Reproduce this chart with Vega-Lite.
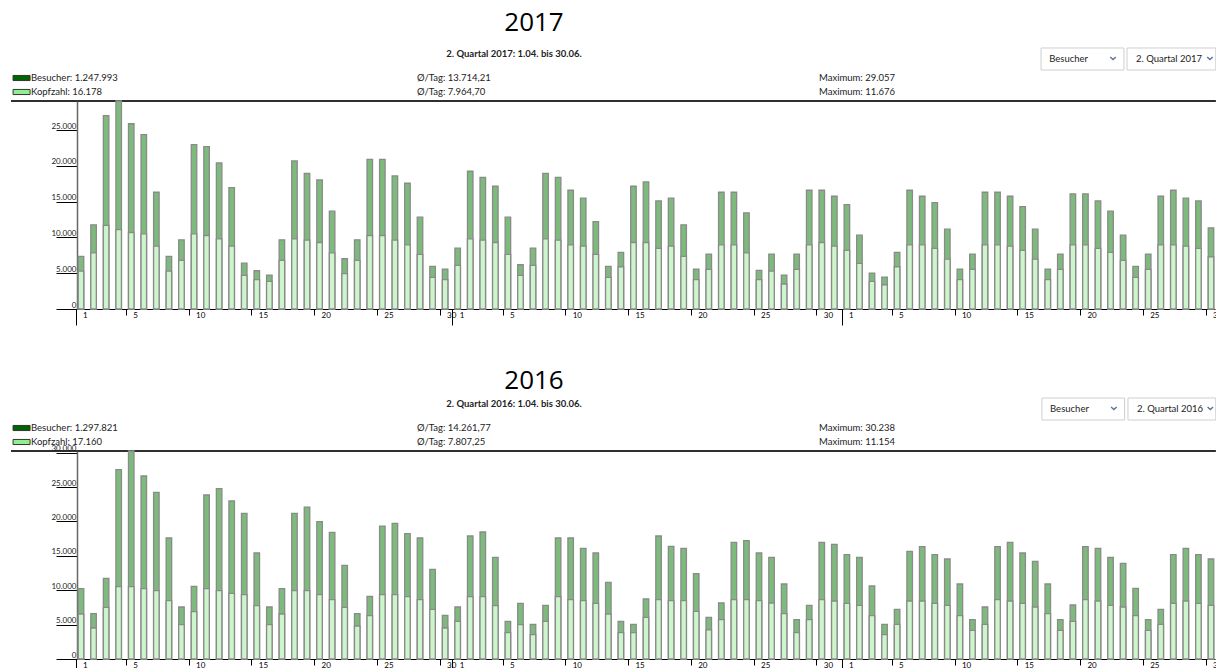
{
"$schema": "https://vega.github.io/schema/vega-lite/v6.json",
"padding": {"left": 10, "top": 10, "right": 0, "bottom": 0},
"background": "white",
"config": {"view": {"stroke": null}, "font": "Lato", "axisY": {"labelOverlap": false}},
"datasets": {
"h2017": [
{"series": "Besucher", "label": "Besucher: 1.247.993", "avg": "Ø/Tag: 13.714,21", "max": "Maximum: 29.057"},
{"series": "Kopfzahl", "label": "Kopfzahl: 16.178", "avg": "Ø/Tag: 7.964,70", "max": "Maximum: 11.676"}
],
"h2016": [
{"series": "Besucher", "label": "Besucher: 1.297.821", "avg": "Ø/Tag: 14.261,77", "max": "Maximum: 30.238"},
{"series": "Kopfzahl", "label": "Kopfzahl: 17.160", "avg": "Ø/Tag: 7.807,25", "max": "Maximum: 11.154"}
],
"d2017": [
{"ds":"2017-04-01","Besucher":7340,"Kopfzahl":5300},{"ds":"2017-04-02","Besucher":11760,"Kopfzahl":7850},{"ds":"2017-04-03","Besucher":27000,"Kopfzahl":11676},{"ds":"2017-04-04","Besucher":29057,"Kopfzahl":11100},{"ds":"2017-04-05","Besucher":25880,"Kopfzahl":10690},{"ds":"2017-04-06","Besucher":24350,"Kopfzahl":10500},{"ds":"2017-04-07","Besucher":16310,"Kopfzahl":8780},{"ds":"2017-04-08","Besucher":7340,"Kopfzahl":5300},{"ds":"2017-04-09","Besucher":9670,"Kopfzahl":6790},{"ds":"2017-04-10","Besucher":22960,"Kopfzahl":10500},
{"ds":"2017-04-11","Besucher":22680,"Kopfzahl":10270},{"ds":"2017-04-12","Besucher":20400,"Kopfzahl":9800},{"ds":"2017-04-13","Besucher":16960,"Kopfzahl":8780},{"ds":"2017-04-14","Besucher":6410,"Kopfzahl":4690},{"ds":"2017-04-15","Besucher":5340,"Kopfzahl":4090},{"ds":"2017-04-16","Besucher":4740,"Kopfzahl":3860},{"ds":"2017-04-17","Besucher":9670,"Kopfzahl":6790},{"ds":"2017-04-18","Besucher":20680,"Kopfzahl":9800},{"ds":"2017-04-19","Besucher":18960,"Kopfzahl":9620},{"ds":"2017-04-20","Besucher":18030,"Kopfzahl":9290},
{"ds":"2017-04-21","Besucher":13660,"Kopfzahl":7850},{"ds":"2017-04-22","Besucher":7020,"Kopfzahl":4930},{"ds":"2017-04-23","Besucher":9670,"Kopfzahl":6790},{"ds":"2017-04-24","Besucher":20910,"Kopfzahl":10270},{"ds":"2017-04-25","Besucher":20910,"Kopfzahl":10270},{"ds":"2017-04-26","Besucher":18590,"Kopfzahl":9620},{"ds":"2017-04-27","Besucher":17570,"Kopfzahl":8970},{"ds":"2017-04-28","Besucher":12830,"Kopfzahl":7620},{"ds":"2017-04-29","Besucher":5950,"Kopfzahl":4420},{"ds":"2017-04-30","Besucher":5580,"Kopfzahl":4090},
{"ds":"2017-05-01","Besucher":8500,"Kopfzahl":6090},{"ds":"2017-05-02","Besucher":19240,"Kopfzahl":9800},{"ds":"2017-05-03","Besucher":18400,"Kopfzahl":9620},{"ds":"2017-05-04","Besucher":17150,"Kopfzahl":9290},{"ds":"2017-05-05","Besucher":12830,"Kopfzahl":7620},{"ds":"2017-05-06","Besucher":6180,"Kopfzahl":4690},{"ds":"2017-05-07","Besucher":8500,"Kopfzahl":6090},{"ds":"2017-05-08","Besucher":18960,"Kopfzahl":9800},{"ds":"2017-05-09","Besucher":18400,"Kopfzahl":9620},{"ds":"2017-05-10","Besucher":16590,"Kopfzahl":8970},
{"ds":"2017-05-11","Besucher":15480,"Kopfzahl":8780},{"ds":"2017-05-12","Besucher":12220,"Kopfzahl":7620},{"ds":"2017-05-13","Besucher":5950,"Kopfzahl":4420},{"ds":"2017-05-14","Besucher":7900,"Kopfzahl":5900},{"ds":"2017-05-15","Besucher":17150,"Kopfzahl":9290},{"ds":"2017-05-16","Besucher":17750,"Kopfzahl":9290},{"ds":"2017-05-17","Besucher":15100,"Kopfzahl":8460},{"ds":"2017-05-18","Besucher":15480,"Kopfzahl":8780},{"ds":"2017-05-19","Besucher":11760,"Kopfzahl":7340},{"ds":"2017-05-20","Besucher":5580,"Kopfzahl":4090},
{"ds":"2017-05-21","Besucher":7670,"Kopfzahl":5530},{"ds":"2017-05-22","Besucher":16310,"Kopfzahl":8970},{"ds":"2017-05-23","Besucher":16310,"Kopfzahl":8970},{"ds":"2017-05-24","Besucher":13430,"Kopfzahl":7850},{"ds":"2017-05-25","Besucher":5390,"Kopfzahl":4090},{"ds":"2017-05-26","Besucher":7670,"Kopfzahl":5300},{"ds":"2017-05-27","Besucher":4740,"Kopfzahl":3490},{"ds":"2017-05-28","Besucher":7670,"Kopfzahl":5530},{"ds":"2017-05-29","Besucher":16590,"Kopfzahl":8970},{"ds":"2017-05-30","Besucher":16590,"Kopfzahl":9290},{"ds":"2017-05-31","Besucher":15750,"Kopfzahl":8780},
{"ds":"2017-06-01","Besucher":14590,"Kopfzahl":8180},{"ds":"2017-06-02","Besucher":10320,"Kopfzahl":6370},{"ds":"2017-06-03","Besucher":5020,"Kopfzahl":3860},{"ds":"2017-06-04","Besucher":4460,"Kopfzahl":3390},{"ds":"2017-06-05","Besucher":7900,"Kopfzahl":5900},{"ds":"2017-06-06","Besucher":16590,"Kopfzahl":8970},{"ds":"2017-06-07","Besucher":15750,"Kopfzahl":8970},{"ds":"2017-06-08","Besucher":14870,"Kopfzahl":8460},{"ds":"2017-06-09","Besucher":11150,"Kopfzahl":6970},{"ds":"2017-06-10","Besucher":5580,"Kopfzahl":4090},
{"ds":"2017-06-11","Besucher":7670,"Kopfzahl":5530},{"ds":"2017-06-12","Besucher":16310,"Kopfzahl":8970},{"ds":"2017-06-13","Besucher":16310,"Kopfzahl":8970},{"ds":"2017-06-14","Besucher":15750,"Kopfzahl":8780},{"ds":"2017-06-15","Besucher":14310,"Kopfzahl":8180},{"ds":"2017-06-16","Besucher":11150,"Kopfzahl":6970},{"ds":"2017-06-17","Besucher":5580,"Kopfzahl":4090},{"ds":"2017-06-18","Besucher":7670,"Kopfzahl":5530},{"ds":"2017-06-19","Besucher":16080,"Kopfzahl":8970},{"ds":"2017-06-20","Besucher":16080,"Kopfzahl":8970},
{"ds":"2017-06-21","Besucher":15100,"Kopfzahl":8460},{"ds":"2017-06-22","Besucher":13660,"Kopfzahl":7900},{"ds":"2017-06-23","Besucher":10320,"Kopfzahl":6790},{"ds":"2017-06-24","Besucher":5950,"Kopfzahl":4420},{"ds":"2017-06-25","Besucher":7670,"Kopfzahl":5530},{"ds":"2017-06-26","Besucher":15750,"Kopfzahl":8970},{"ds":"2017-06-27","Besucher":16590,"Kopfzahl":8970},{"ds":"2017-06-28","Besucher":15480,"Kopfzahl":8780},{"ds":"2017-06-29","Besucher":15100,"Kopfzahl":8460},{"ds":"2017-06-30","Besucher":11340,"Kopfzahl":7300}
],
"d2016": [
{"ds":"2016-04-01","Besucher":10220,"Kopfzahl":6540},{"ds":"2016-04-02","Besucher":6590,"Kopfzahl":4510},{"ds":"2016-04-03","Besucher":11730,"Kopfzahl":7510},{"ds":"2016-04-04","Besucher":27520,"Kopfzahl":10510},{"ds":"2016-04-05","Besucher":30238,"Kopfzahl":10510},{"ds":"2016-04-06","Besucher":26600,"Kopfzahl":10220},{"ds":"2016-04-07","Besucher":24230,"Kopfzahl":9930},{"ds":"2016-04-08","Besucher":17590,"Kopfzahl":8480},{"ds":"2016-04-09","Besucher":7560,"Kopfzahl":4990},{"ds":"2016-04-10","Besucher":10560,"Kopfzahl":6880},
{"ds":"2016-04-11","Besucher":23840,"Kopfzahl":10220},{"ds":"2016-04-12","Besucher":24760,"Kopfzahl":9930},{"ds":"2016-04-13","Besucher":22970,"Kopfzahl":9550},{"ds":"2016-04-14","Besucher":21170,"Kopfzahl":9350},{"ds":"2016-04-15","Besucher":15410,"Kopfzahl":7750},{"ds":"2016-04-16","Besucher":7560,"Kopfzahl":4990},{"ds":"2016-04-17","Besucher":10220,"Kopfzahl":6540},{"ds":"2016-04-18","Besucher":21170,"Kopfzahl":9930},{"ds":"2016-04-19","Besucher":22090,"Kopfzahl":9930},{"ds":"2016-04-20","Besucher":19960,"Kopfzahl":9350},
{"ds":"2016-04-21","Besucher":18410,"Kopfzahl":8620},{"ds":"2016-04-22","Besucher":13610,"Kopfzahl":7510},{"ds":"2016-04-23","Besucher":6590,"Kopfzahl":4800},{"ds":"2016-04-24","Besucher":9110,"Kopfzahl":6300},{"ds":"2016-04-25","Besucher":19330,"Kopfzahl":9350},{"ds":"2016-04-26","Besucher":19720,"Kopfzahl":9350},{"ds":"2016-04-27","Besucher":18220,"Kopfzahl":9060},{"ds":"2016-04-28","Besucher":17590,"Kopfzahl":8620},{"ds":"2016-04-29","Besucher":13030,"Kopfzahl":7220},{"ds":"2016-04-30","Besucher":6350,"Kopfzahl":4510},
{"ds":"2016-05-01","Besucher":7560,"Kopfzahl":5480},{"ds":"2016-05-02","Besucher":17880,"Kopfzahl":9060},{"ds":"2016-05-03","Besucher":18460,"Kopfzahl":9060},{"ds":"2016-05-04","Besucher":14780,"Kopfzahl":7750},{"ds":"2016-05-05","Besucher":5480,"Kopfzahl":3830},{"ds":"2016-05-06","Besucher":8090,"Kopfzahl":4990},{"ds":"2016-05-07","Besucher":5040,"Kopfzahl":3540},{"ds":"2016-05-08","Besucher":7800,"Kopfzahl":5480},{"ds":"2016-05-09","Besucher":17590,"Kopfzahl":9060},{"ds":"2016-05-10","Besucher":17590,"Kopfzahl":8620},
{"ds":"2016-05-11","Besucher":16090,"Kopfzahl":8480},{"ds":"2016-05-12","Besucher":15410,"Kopfzahl":8090},{"ds":"2016-05-13","Besucher":11140,"Kopfzahl":6540},{"ds":"2016-05-14","Besucher":5480,"Kopfzahl":3830},{"ds":"2016-05-15","Besucher":5040,"Kopfzahl":3830},{"ds":"2016-05-16","Besucher":8720,"Kopfzahl":6060},{"ds":"2016-05-17","Besucher":17880,"Kopfzahl":8620},{"ds":"2016-05-18","Besucher":16380,"Kopfzahl":8480},{"ds":"2016-05-19","Besucher":16090,"Kopfzahl":8480},{"ds":"2016-05-20","Besucher":12400,"Kopfzahl":6930},
{"ds":"2016-05-21","Besucher":6060,"Kopfzahl":4220},{"ds":"2016-05-22","Besucher":8140,"Kopfzahl":5720},{"ds":"2016-05-23","Besucher":16960,"Kopfzahl":8620},{"ds":"2016-05-24","Besucher":17200,"Kopfzahl":8620},{"ds":"2016-05-25","Besucher":15410,"Kopfzahl":8480},{"ds":"2016-05-26","Besucher":14780,"Kopfzahl":8140},{"ds":"2016-05-27","Besucher":10900,"Kopfzahl":6590},{"ds":"2016-05-28","Besucher":5720,"Kopfzahl":3830},{"ds":"2016-05-29","Besucher":7800,"Kopfzahl":5720},{"ds":"2016-05-30","Besucher":16960,"Kopfzahl":8620},{"ds":"2016-05-31","Besucher":16670,"Kopfzahl":8430},
{"ds":"2016-06-01","Besucher":15170,"Kopfzahl":8090},{"ds":"2016-06-02","Besucher":14780,"Kopfzahl":7800},{"ds":"2016-06-03","Besucher":10610,"Kopfzahl":6300},{"ds":"2016-06-04","Besucher":5040,"Kopfzahl":3540},{"ds":"2016-06-05","Besucher":7220,"Kopfzahl":5040},{"ds":"2016-06-06","Besucher":15650,"Kopfzahl":8430},{"ds":"2016-06-07","Besucher":16330,"Kopfzahl":8430},{"ds":"2016-06-08","Besucher":15170,"Kopfzahl":8090},{"ds":"2016-06-09","Besucher":14540,"Kopfzahl":7800},{"ds":"2016-06-10","Besucher":10900,"Kopfzahl":6300},
{"ds":"2016-06-11","Besucher":5720,"Kopfzahl":4170},{"ds":"2016-06-12","Besucher":7560,"Kopfzahl":5040},{"ds":"2016-06-13","Besucher":16330,"Kopfzahl":8620},{"ds":"2016-06-14","Besucher":16960,"Kopfzahl":8430},{"ds":"2016-06-15","Besucher":15410,"Kopfzahl":8090},{"ds":"2016-06-16","Besucher":14200,"Kopfzahl":7560},{"ds":"2016-06-17","Besucher":10900,"Kopfzahl":6590},{"ds":"2016-06-18","Besucher":5720,"Kopfzahl":4170},{"ds":"2016-06-19","Besucher":7850,"Kopfzahl":5480},{"ds":"2016-06-20","Besucher":16330,"Kopfzahl":8620},
{"ds":"2016-06-21","Besucher":16090,"Kopfzahl":8430},{"ds":"2016-06-22","Besucher":14780,"Kopfzahl":7800},{"ds":"2016-06-23","Besucher":13910,"Kopfzahl":7560},{"ds":"2016-06-24","Besucher":10270,"Kopfzahl":6300},{"ds":"2016-06-25","Besucher":5720,"Kopfzahl":4170},{"ds":"2016-06-26","Besucher":7220,"Kopfzahl":5040},{"ds":"2016-06-27","Besucher":15170,"Kopfzahl":8090},{"ds":"2016-06-28","Besucher":16090,"Kopfzahl":8430},{"ds":"2016-06-29","Besucher":15170,"Kopfzahl":8090},{"ds":"2016-06-30","Besucher":14540,"Kopfzahl":7800}
]
},
"spacing": 42,
"vconcat": [
{
"spacing": 0,
"bounds": "flush",
"vconcat": [
{
"title": {"text": "2017", "fontSize": 26, "font": "Open Sans", "fontWeight": "normal", "color": "#000", "anchor": "middle", "frame": "group", "dx": -112, "offset": -17, "baseline": "bottom"},
"width": 1138, "height": 56,
"data": {"name": "h2017"},
"resolve": {"scale": {"y": "independent"}},
"layer": [
{"mark": {"type": "rule", "color": "#222", "strokeWidth": 1.5},
 "encoding": {"x": {"datum": 0.82, "type": "quantitative", "scale": {"domain": [0, 100], "range": [-76, 1140], "nice": false, "zero": false}, "axis": null}, "x2": {"datum": 99.9}, "y": {"datum": 4, "type": "quantitative", "scale": {"domain": [0, 4], "reverse": true, "nice": false, "zero": false}, "axis": null}}},
{"mark": {"type": "point", "shape": "M-1,-0.3H1V0.3H-1Z", "size": 289, "filled": true, "opacity": 1, "stroke": "#333", "strokeWidth": 1},
 "encoding": {"x": {"datum": 1.69, "type": "quantitative"}, "y": {"field": "series", "type": "nominal", "scale": {"type": "point", "domain": ["Besucher", "Kopfzahl"], "range": [33, 47], "padding": 0}, "axis": null}, "fill": {"field": "series", "type": "nominal", "scale": {"domain": ["Besucher", "Kopfzahl"], "range": ["#006400", "#90ee90"]}, "legend": null}}},
{"mark": {"type": "text", "align": "left", "baseline": "middle", "fontSize": 9.5, "font": "Lato", "color": "#222"},
 "encoding": {"x": {"datum": 2.47, "type": "quantitative"}, "y": {"field": "series", "type": "nominal", "scale": {"type": "point", "domain": ["Besucher", "Kopfzahl"], "range": [33, 47], "padding": 0}, "axis": null}, "text": {"field": "label"}}},
{"mark": {"type": "text", "align": "left", "baseline": "middle", "fontSize": 9.5, "font": "Lato", "color": "#222"},
 "encoding": {"x": {"datum": 34.21, "type": "quantitative"}, "y": {"field": "series", "type": "nominal", "scale": {"type": "point", "domain": ["Besucher", "Kopfzahl"], "range": [33, 47], "padding": 0}, "axis": null}, "text": {"field": "avg"}}},
{"mark": {"type": "text", "align": "left", "baseline": "middle", "fontSize": 9.5, "font": "Lato", "color": "#222"},
 "encoding": {"x": {"datum": 67.27, "type": "quantitative"}, "y": {"field": "series", "type": "nominal", "scale": {"type": "point", "domain": ["Besucher", "Kopfzahl"], "range": [33, 47], "padding": 0}, "axis": null}, "text": {"field": "max"}}},
{"data": {"values": [{"t": "2. Quartal 2017: 1.04. bis 30.06."}]},
 "mark": {"type": "text", "align": "center", "baseline": "middle", "fontSize": 9.5, "fontWeight": "bold", "font": "Lato", "color": "#222"},
 "encoding": {"x": {"datum": 42.19, "type": "quantitative"}, "y": {"datum": 0.643, "type": "quantitative", "scale": {"domain": [0, 4], "reverse": true, "nice": false, "zero": false}, "axis": null}, "text": {"field": "t"}}},
{"data": {"values": [{"t": "Besucher", "u": "2. Quartal 2017"}]},
 "resolve": {"scale": {"y": "independent"}},
 "layer": [
  {"mark": {"type": "rect", "fill": "white", "stroke": "#cfcfcf", "strokeWidth": 1},
   "encoding": {"x": {"datum": 85.53, "type": "quantitative"}, "x2": {"datum": 92.35}, "y": {"datum": 0.214, "type": "quantitative", "scale": {"domain": [0, 4], "reverse": true, "nice": false, "zero": false}, "axis": null}, "y2": {"datum": 1.786}}},
  {"mark": {"type": "rect", "fill": "white", "stroke": "#cfcfcf", "strokeWidth": 1},
   "encoding": {"x": {"datum": 92.6, "type": "quantitative"}, "x2": {"datum": 99.9}, "y": {"datum": 0.214, "type": "quantitative", "scale": {"domain": [0, 4], "reverse": true, "nice": false, "zero": false}, "axis": null}, "y2": {"datum": 1.786}}},
  {"mark": {"type": "text", "align": "left", "baseline": "middle", "fontSize": 9.5, "font": "Lato", "color": "#222"},
   "encoding": {"x": {"datum": 86.2, "type": "quantitative"}, "y": {"datum": 1.0, "type": "quantitative", "scale": {"domain": [0, 4], "reverse": true, "nice": false, "zero": false}, "axis": null}, "text": {"field": "t"}}},
  {"mark": {"type": "text", "align": "left", "baseline": "middle", "fontSize": 9.5, "font": "Lato", "color": "#222"},
   "encoding": {"x": {"datum": 93.34, "type": "quantitative"}, "y": {"datum": 1.0, "type": "quantitative", "scale": {"domain": [0, 4], "reverse": true, "nice": false, "zero": false}, "axis": null}, "text": {"field": "u"}}},
  {"mark": {"type": "point", "shape": "M-1,-0.45L0,0.45L1,-0.45", "size": 30, "filled": false, "stroke": "#5a7096", "strokeWidth": 1.4, "opacity": 1},
   "encoding": {"x": {"datum": 91.45, "type": "quantitative"}, "y": {"datum": 0.95, "type": "quantitative", "scale": {"domain": [0, 4], "reverse": true, "nice": false, "zero": false}, "axis": null}}},
  {"mark": {"type": "point", "shape": "M-1,-0.45L0,0.45L1,-0.45", "size": 30, "filled": false, "stroke": "#5a7096", "strokeWidth": 1.4, "opacity": 1},
   "encoding": {"x": {"datum": 99.42, "type": "quantitative"}, "y": {"datum": 0.95, "type": "quantitative", "scale": {"domain": [0, 4], "reverse": true, "nice": false, "zero": false}, "axis": null}}}
 ]}
]
},
{
"width": 1138, "height": 208,
"data": {"name": "d2017"},
"encoding": {"x": {"field": "ds", "type": "ordinal", "scale": {"paddingInner": 0.56, "paddingOuter": 0.1},
 "axis": {"title": null, "values": ["2017-04-01","2017-04-05","2017-04-10","2017-04-15","2017-04-20","2017-04-25","2017-04-30","2017-05-01","2017-05-05","2017-05-10","2017-05-15","2017-05-20","2017-05-25","2017-05-30","2017-06-01","2017-06-05","2017-06-10","2017-06-15","2017-06-20","2017-06-25","2017-06-30"],
 "labelExpr": "toNumber(slice(datum.value, 8))", "labelAngle": 0, "labelAlign": "left", "labelBaseline": "top", "labelOffset": 2, "labelFontSize": 8, "labelColor": "#000", "labelFont": "Lato", "labelOverlap": false,
 "bandPosition": -0.38, "domainColor": "#000", "domainWidth": 1, "tickColor": "#000", "tickWidth": 1,
 "tickSize": {"condition": {"test": "slice(datum.value, 8) == '01'", "value": 16}, "value": 6},
 "labelPadding": {"condition": {"test": "slice(datum.value, 8) == '01'", "value": -14}, "value": -4}}},
 "y": {"type": "quantitative", "scale": {"domain": [0, 29057], "nice": false},
  "axis": {"title": null, "values": [0, 5000, 10000, 15000, 20000, 25000], "labelExpr": "replace(format(datum.value, ','), ',', '.')", "grid": false, "tickSize": 21, "labelPadding": -20, "labelBaseline": "bottom", "labelFontSize": 8, "labelColor": "#222", "labelFont": "Lato", "labelOverlap": false, "labelFlush": false, "tickColor": "#000", "domainColor": "#666", "domainWidth": 1.5}}},
"layer": [
{"mark": {"type": "bar", "fill": "#7dbb7d", "stroke": "#8a8a8a", "strokeWidth": 1.3},
 "encoding": {"y": {"field": "Besucher", "type": "quantitative", "title": null}}},
{"mark": {"type": "bar", "fill": "#ccf5cc", "stroke": "#8a8a8a", "strokeWidth": 1.3},
 "encoding": {"y": {"field": "Kopfzahl", "type": "quantitative", "title": null}}}
]
}
]
},
{
"spacing": 0,
"bounds": "flush",
"vconcat": [
{
"title": {"text": "2016", "fontSize": 26, "font": "Open Sans", "fontWeight": "normal", "color": "#000", "anchor": "middle", "frame": "group", "dx": -112, "offset": -25, "baseline": "bottom"},
"width": 1138, "height": 56,
"data": {"name": "h2016"},
"resolve": {"scale": {"y": "independent"}},
"layer": [
{"mark": {"type": "rule", "color": "#222", "strokeWidth": 1.5},
 "encoding": {"x": {"datum": 0.82, "type": "quantitative", "scale": {"domain": [0, 100], "range": [-76, 1140], "nice": false, "zero": false}, "axis": null}, "x2": {"datum": 99.9}, "y": {"datum": 4, "type": "quantitative", "scale": {"domain": [0, 4], "reverse": true, "nice": false, "zero": false}, "axis": null}}},
{"mark": {"type": "point", "shape": "M-1,-0.3H1V0.3H-1Z", "size": 289, "filled": true, "opacity": 1, "stroke": "#333", "strokeWidth": 1},
 "encoding": {"x": {"datum": 1.69, "type": "quantitative"}, "y": {"field": "series", "type": "nominal", "scale": {"type": "point", "domain": ["Besucher", "Kopfzahl"], "range": [33, 47], "padding": 0}, "axis": null}, "fill": {"field": "series", "type": "nominal", "scale": {"domain": ["Besucher", "Kopfzahl"], "range": ["#006400", "#90ee90"]}, "legend": null}}},
{"mark": {"type": "text", "align": "left", "baseline": "middle", "fontSize": 9.5, "font": "Lato", "color": "#222"},
 "encoding": {"x": {"datum": 2.47, "type": "quantitative"}, "y": {"field": "series", "type": "nominal", "scale": {"type": "point", "domain": ["Besucher", "Kopfzahl"], "range": [33, 47], "padding": 0}, "axis": null}, "text": {"field": "label"}}},
{"mark": {"type": "text", "align": "left", "baseline": "middle", "fontSize": 9.5, "font": "Lato", "color": "#222"},
 "encoding": {"x": {"datum": 34.21, "type": "quantitative"}, "y": {"field": "series", "type": "nominal", "scale": {"type": "point", "domain": ["Besucher", "Kopfzahl"], "range": [33, 47], "padding": 0}, "axis": null}, "text": {"field": "avg"}}},
{"mark": {"type": "text", "align": "left", "baseline": "middle", "fontSize": 9.5, "font": "Lato", "color": "#222"},
 "encoding": {"x": {"datum": 67.27, "type": "quantitative"}, "y": {"field": "series", "type": "nominal", "scale": {"type": "point", "domain": ["Besucher", "Kopfzahl"], "range": [33, 47], "padding": 0}, "axis": null}, "text": {"field": "max"}}},
{"data": {"values": [{"t": "2. Quartal 2016: 1.04. bis 30.06."}]},
 "mark": {"type": "text", "align": "center", "baseline": "middle", "fontSize": 9.5, "fontWeight": "bold", "font": "Lato", "color": "#222"},
 "encoding": {"x": {"datum": 42.19, "type": "quantitative"}, "y": {"datum": 0.643, "type": "quantitative", "scale": {"domain": [0, 4], "reverse": true, "nice": false, "zero": false}, "axis": null}, "text": {"field": "t"}}},
{"data": {"values": [{"t": "Besucher", "u": "2. Quartal 2016"}]},
 "resolve": {"scale": {"y": "independent"}},
 "layer": [
  {"mark": {"type": "rect", "fill": "white", "stroke": "#cfcfcf", "strokeWidth": 1},
   "encoding": {"x": {"datum": 85.6, "type": "quantitative"}, "x2": {"datum": 92.4}, "y": {"datum": 0.214, "type": "quantitative", "scale": {"domain": [0, 4], "reverse": true, "nice": false, "zero": false}, "axis": null}, "y2": {"datum": 1.786}}},
  {"mark": {"type": "rect", "fill": "white", "stroke": "#cfcfcf", "strokeWidth": 1},
   "encoding": {"x": {"datum": 92.68, "type": "quantitative"}, "x2": {"datum": 99.9}, "y": {"datum": 0.214, "type": "quantitative", "scale": {"domain": [0, 4], "reverse": true, "nice": false, "zero": false}, "axis": null}, "y2": {"datum": 1.786}}},
  {"mark": {"type": "text", "align": "left", "baseline": "middle", "fontSize": 9.5, "font": "Lato", "color": "#222"},
   "encoding": {"x": {"datum": 86.27, "type": "quantitative"}, "y": {"datum": 1.0, "type": "quantitative", "scale": {"domain": [0, 4], "reverse": true, "nice": false, "zero": false}, "axis": null}, "text": {"field": "t"}}},
  {"mark": {"type": "text", "align": "left", "baseline": "middle", "fontSize": 9.5, "font": "Lato", "color": "#222"},
   "encoding": {"x": {"datum": 93.42, "type": "quantitative"}, "y": {"datum": 1.0, "type": "quantitative", "scale": {"domain": [0, 4], "reverse": true, "nice": false, "zero": false}, "axis": null}, "text": {"field": "u"}}},
  {"mark": {"type": "point", "shape": "M-1,-0.45L0,0.45L1,-0.45", "size": 30, "filled": false, "stroke": "#5a7096", "strokeWidth": 1.4, "opacity": 1},
   "encoding": {"x": {"datum": 91.52, "type": "quantitative"}, "y": {"datum": 0.95, "type": "quantitative", "scale": {"domain": [0, 4], "reverse": true, "nice": false, "zero": false}, "axis": null}}},
  {"mark": {"type": "point", "shape": "M-1,-0.45L0,0.45L1,-0.45", "size": 30, "filled": false, "stroke": "#5a7096", "strokeWidth": 1.4, "opacity": 1},
   "encoding": {"x": {"datum": 99.45, "type": "quantitative"}, "y": {"datum": 0.95, "type": "quantitative", "scale": {"domain": [0, 4], "reverse": true, "nice": false, "zero": false}, "axis": null}}}
 ]}
]
},
{
"width": 1138, "height": 208,
"data": {"name": "d2016"},
"encoding": {"x": {"field": "ds", "type": "ordinal", "scale": {"paddingInner": 0.56, "paddingOuter": 0.1},
 "axis": {"title": null, "values": ["2016-04-01","2016-04-05","2016-04-10","2016-04-15","2016-04-20","2016-04-25","2016-04-30","2016-05-01","2016-05-05","2016-05-10","2016-05-15","2016-05-20","2016-05-25","2016-05-30","2016-06-01","2016-06-05","2016-06-10","2016-06-15","2016-06-20","2016-06-25","2016-06-30"],
 "labelExpr": "toNumber(slice(datum.value, 8))", "labelAngle": 0, "labelAlign": "left", "labelBaseline": "top", "labelOffset": 2, "labelFontSize": 8, "labelColor": "#000", "labelFont": "Lato", "labelOverlap": false,
 "bandPosition": -0.38, "domainColor": "#000", "domainWidth": 1, "tickColor": "#000", "tickWidth": 1,
 "tickSize": {"condition": {"test": "slice(datum.value, 8) == '01'", "value": 16}, "value": 6},
 "labelPadding": {"condition": {"test": "slice(datum.value, 8) == '01'", "value": -14}, "value": -4}}},
 "y": {"type": "quantitative", "scale": {"domain": [0, 30238], "nice": false},
  "axis": {"title": null, "values": [0, 5000, 10000, 15000, 20000, 25000, 30000], "labelExpr": "replace(format(datum.value, ','), ',', '.')", "grid": false, "tickSize": 21, "labelPadding": -20, "labelBaseline": "bottom", "labelFontSize": 8, "labelColor": "#222", "labelFont": "Lato", "labelOverlap": false, "labelFlush": false, "tickColor": "#000", "domainColor": "#666", "domainWidth": 1.5}}},
"layer": [
{"mark": {"type": "bar", "fill": "#7dbb7d", "stroke": "#8a8a8a", "strokeWidth": 1.3},
 "encoding": {"y": {"field": "Besucher", "type": "quantitative", "title": null}}},
{"mark": {"type": "bar", "fill": "#ccf5cc", "stroke": "#8a8a8a", "strokeWidth": 1.3},
 "encoding": {"y": {"field": "Kopfzahl", "type": "quantitative", "title": null}}}
]
}
]
}
]
}
